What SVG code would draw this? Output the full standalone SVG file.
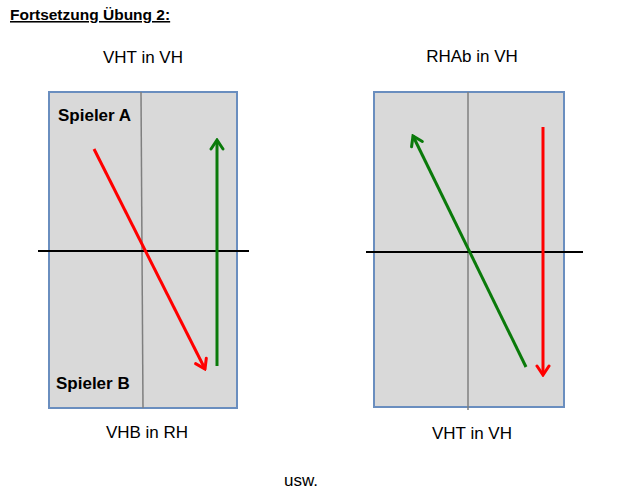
<svg xmlns="http://www.w3.org/2000/svg" width="631" height="500" viewBox="0 0 631 500">
<style>
.t{font-family:"Liberation Sans",Arial,sans-serif;fill:#000}
.lbl{font-size:17px;text-anchor:middle}
.b{font-weight:bold;font-size:17px}
.table{fill:#d9d9d9;stroke:#6a8ebf;stroke-width:2}
.mid{stroke:#7f7f7f;stroke-width:1.5}
.net{stroke:#000;stroke-width:2}
.red{stroke:#ff0000;stroke-width:3;fill:none}
.green{stroke:#0a7a0a;stroke-width:3;fill:none}
</style>
<defs>
<marker id="ar" markerUnits="userSpaceOnUse" viewBox="-12 -8 14 16" refX="0" refY="0" markerWidth="14" markerHeight="16" orient="auto">
<path d="M-9,-6 L0,0 L-9,6" fill="none" stroke="#ff0000" stroke-width="3" stroke-linecap="round"/>
</marker>
<marker id="ag" markerUnits="userSpaceOnUse" viewBox="-12 -8 14 16" refX="0" refY="0" markerWidth="14" markerHeight="16" orient="auto">
<path d="M-9,-6 L0,0 L-9,6" fill="none" stroke="#0a7a0a" stroke-width="3" stroke-linecap="round"/>
</marker>
</defs>
<text class="t" x="10" y="20" font-size="15.5" font-weight="bold" text-decoration="underline">Fortsetzung Übung 2:</text>
<g id="table1">
<rect class="table" x="49" y="92" width="188" height="316"/>
<line class="mid" x1="141" y1="92" x2="143" y2="408"/>
<line class="net" x1="38" y1="251" x2="249" y2="251"/>
<text class="t b" x="58" y="121">Spieler A</text>
<text class="t b" x="56" y="389">Spieler B</text>
</g>
<g id="table2">
<rect class="table" x="374" y="92" width="190" height="315"/>
<line class="mid" x1="468" y1="92" x2="468" y2="410"/>
<line class="net" x1="366" y1="252" x2="583" y2="252"/>
</g>
<g id="labels">
<text class="t lbl" x="143" y="63">VHT in VH</text>
<text class="t lbl" x="472" y="62">RHAb in VH</text>
<text class="t lbl" x="147" y="438">VHB in RH</text>
<text class="t lbl" x="472" y="439">VHT in VH</text>
<text class="t lbl" x="301" y="486">usw.</text>
</g>
<g id="connectors">
<line class="red" x1="94" y1="149" x2="205" y2="369" marker-end="url(#ar)"/>
<line class="green" x1="217" y1="366" x2="217" y2="140" marker-end="url(#ag)"/>
<line class="green" x1="526" y1="367" x2="413" y2="136" marker-end="url(#ag)"/>
<line class="red" x1="543" y1="127" x2="543" y2="375" marker-end="url(#ar)"/>
</g>
</svg>
